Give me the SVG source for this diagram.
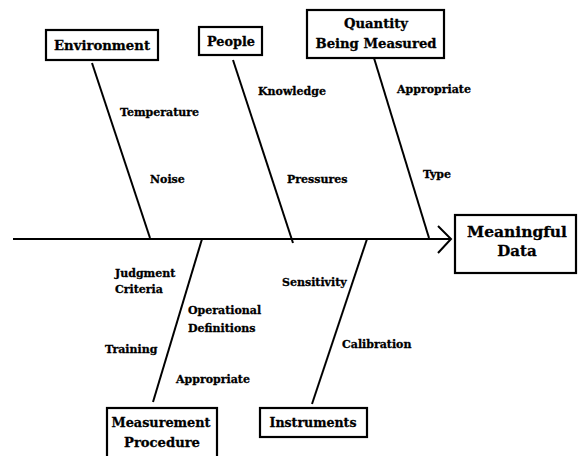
<svg xmlns="http://www.w3.org/2000/svg" width="578" height="456" viewBox="0 0 578 456">
<style>
.box{fill:#fff;stroke:#000;stroke-width:2.2}
.bone{stroke:#000;stroke-width:2;fill:none}
.t{font-family:"DejaVu Serif","Liberation Serif",serif;font-weight:bold;fill:#000;stroke:#000;stroke-width:0.3}
.h{font-size:13.5px;text-anchor:middle}
.l{font-size:11px}
</style>
<rect width="578" height="456" fill="#fff"/>
<g id="connectors">
<line class="bone" x1="13" y1="239" x2="450" y2="239"/>
<polyline class="bone" points="438,226 451,239 438,253"/>
<line class="bone" x1="92" y1="63" x2="150" y2="238"/>
<line class="bone" x1="233" y1="60" x2="293" y2="243"/>
<line class="bone" x1="374" y1="58" x2="429" y2="238"/>
<line class="bone" x1="202" y1="239" x2="153" y2="402"/>
<line class="bone" x1="367" y1="239" x2="312" y2="404"/>
</g>
<g id="environment"><rect class="box" x="46" y="30" width="112" height="30"/><text class="t h" x="102" y="50" textLength="96" lengthAdjust="spacingAndGlyphs">Environment</text></g>
<g id="people"><rect class="box" x="199" y="27" width="63" height="28"/><text class="t h" x="231" y="46" textLength="48" lengthAdjust="spacingAndGlyphs">People</text></g>
<g id="quantity"><rect class="box" x="307" y="10" width="137" height="48"/><text class="t h" x="376" y="28" textLength="64" lengthAdjust="spacingAndGlyphs">Quantity</text><text class="t h" x="376" y="48" textLength="121" lengthAdjust="spacingAndGlyphs">Being Measured</text></g>
<g id="meaningful-data"><rect class="box" x="455" y="215" width="121" height="58"/><text class="t h" x="517" y="237" style="font-size:15px" textLength="100" lengthAdjust="spacingAndGlyphs">Meaningful</text><text class="t h" x="517" y="256" style="font-size:15px">Data</text></g>
<g id="measurement-procedure"><rect class="box" x="107" y="408" width="110" height="52"/><text class="t h" x="161" y="427" textLength="99" lengthAdjust="spacingAndGlyphs">Measurement</text><text class="t h" x="162" y="447" textLength="76" lengthAdjust="spacingAndGlyphs">Procedure</text></g>
<g id="instruments"><rect class="box" x="260" y="408" width="107" height="29"/><text class="t h" x="313" y="427" textLength="87" lengthAdjust="spacingAndGlyphs">Instruments</text></g>
<g id="labels">
<text class="t l" x="120" y="116">Temperature</text>
<text class="t l" x="150" y="183">Noise</text>
<text class="t l" x="258" y="95">Knowledge</text>
<text class="t l" x="287" y="183">Pressures</text>
<text class="t l" x="397" y="93">Appropriate</text>
<text class="t l" x="423" y="178">Type</text>
<text class="t l" x="115" y="277">Judgment</text>
<text class="t l" x="115" y="293">Criteria</text>
<text class="t l" x="188" y="314">Operational</text>
<text class="t l" x="188" y="332">Definitions</text>
<text class="t l" x="105" y="353">Training</text>
<text class="t l" x="176" y="383">Appropriate</text>
<text class="t l" x="282" y="286">Sensitivity</text>
<text class="t l" x="342" y="348">Calibration</text>
</g>
</svg>
